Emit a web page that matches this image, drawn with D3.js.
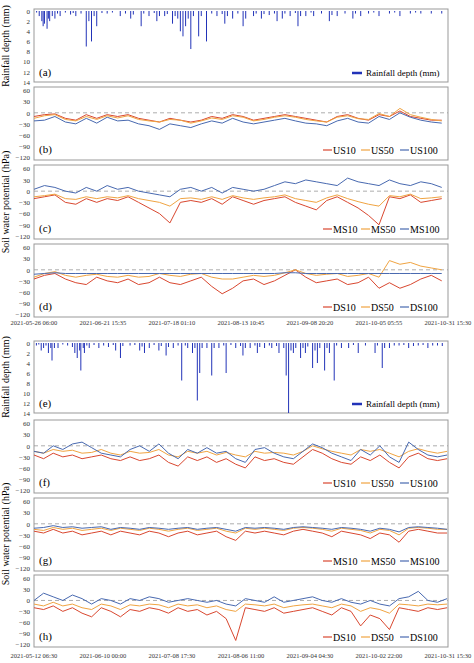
<!DOCTYPE html>
<html><head><meta charset="utf-8">
<script src="https://cdn.jsdelivr.net/npm/d3@7"></script>
<style>body{margin:0;background:#fff}text{font-family:"Liberation Serif",serif}</style>
</head><body><svg id="c" width="474" height="663"></svg>
<script>
// ---- data (days after start) ----
var startTop = new Date(2021, 4, 26, 6, 0), endTop = new Date(2021, 9, 31, 15, 30);
var startBot = new Date(2021, 4, 12, 6, 30), endBot = new Date(2021, 9, 31, 15, 30);
var ticksTop = ["2021-05-26 06:00","2021-06-21 15:35","2021-07-18 01:10","2021-08-13 10:45","2021-09-08 20:20","2021-10-05 05:55","2021-10-31 15:30"];
var ticksBot = ["2021-05-12 06:30","2021-06-10 00:00","2021-07-08 17:30","2021-08-06 11:00","2021-09-04 04:30","2021-10-02 22:00","2021-10-31 15:30"];
var rainTicks = [0,2,4,6,8,10,12,14];
var swpTicks = [60,30,0,-30,-60,-90,-120];

// rainfall [day, mm]
var rainTop = [[1,0.3],[2,1],[3,2],[3.5,3],[4,2.5],[5,3.5],[5.5,1.5],[6,2],[7,1],[8,1.5],[9,0.5],[10,1],[12,0.3],[14,0.7],[15,0.4],[16,1],[18,0.5],[20,7],[21,2],[22,6],[23,1],[24,3],[26,0.4],[28,0.5],[30,0.3],[33,1],[35,0.5],[37,1.5],[38,0.7],[41,3],[42,0.5],[44,1],[46,0.4],[47,2],[48,1],[50,1],[51,0.6],[53,2.5],[54,1],[55,1.5],[56,4],[57,5],[58,3],[59,1.5],[60,7.5],[61,1],[63,5],[64,1],[66,6],[68,0.5],[70,1],[72,0.6],[73,2.5],[74,1],[76,1.5],[78,0.5],[80,3],[81,1.5],[84,1],[85,0.5],[87,1.5],[88,0.6],[90,0.8],[92,0.5],[93,2],[95,1.5],[96,0.5],[98,1],[100,0.4],[101,3],[102,1],[104,1],[106,0.3],[107,1],[110,0.5],[113,2],[114,0.8],[116,1],[119,0.5],[122,1.5],[123,0.5],[125,1],[128,0.5],[130,0.3],[132,1],[136,0.5],[138,0.3],[140,1],[144,0.5],[146,0.3],[148,0.5],[152,0.5],[156,0.5]];
var rainBot = [[1,0.5],[2,0.3],[3,1.5],[4,1],[5,0.5],[6,2],[7,1],[7.5,3.5],[8.5,1],[10,1],[12,0.3],[14,0.5],[16,0.8],[17,2],[18,3],[19,1.5],[19.5,5.5],[20.5,1],[21,2],[22,0.5],[23,1],[25,0.4],[27,1],[29,0.5],[31,0.8],[33,0.4],[34,1.5],[36,3],[37,0.6],[40,0.5],[42,0.4],[44,1.5],[45,0.7],[46,2],[48,1],[50,0.4],[52,1.5],[53,0.6],[55,2.5],[56,0.8],[58,1],[60,0.5],[61.5,7.5],[63,0.5],[64,1],[66,2],[67,1],[68,11.5],[69,6],[70,1],[72,1],[74,6.5],[75,1],[77,1],[79,0.5],[80,6],[82,0.4],[84,1],[86,0.6],[87,2.5],[88,1],[90,1],[92,0.5],[93,2],[94,0.8],[96,1],[98,0.5],[99,1],[101,0.6],[102,2],[104,1],[105,6.5],[106,14],[107,1.5],[108,2],[109,1],[111,3],[112,1],[113,2],[114,0.7],[116,5],[117,1.5],[118,4],[119,1],[121,5.5],[122,1],[123,2],[125,7.5],[126,0.5],[128,1],[131,1],[133,0.4],[135,2],[138,0.5],[142,2],[143,0.5],[145,5],[146,1],[148,1],[150,0.5],[152,0.5],[154,0.4],[156,1],[158,0.6],[160,0.5],[162,0.4],[164,1],[166,0.5],[168,0.5],[170,0.6]];

// soil water potential, one value every 4 days
var US10t  = [-10,-5,-3,-15,-20,-5,-15,-5,-10,-5,-15,-20,-25,-15,-20,-25,-20,-10,-15,-5,-10,-20,-15,-10,-5,-10,-15,-20,-25,-10,-5,-15,-20,-5,-10,5,-10,-15,-20,-20];
var US50t  = [-15,-8,-5,-18,-22,-10,-18,-8,-14,-8,-18,-22,-25,-18,-20,-28,-22,-14,-18,-8,-12,-22,-18,-12,-8,-12,-18,-22,-25,-12,-8,-16,-18,-2,-10,12,-5,-12,-18,-22];
var US100t = [-22,-20,-10,-25,-30,-15,-28,-12,-22,-20,-30,-35,-45,-30,-35,-40,-30,-22,-28,-15,-25,-30,-25,-20,-15,-22,-28,-30,-35,-22,-15,-25,-28,-10,-18,0,-12,-20,-25,-28];
var MS10t  = [-20,-15,-10,-30,-35,-20,-30,-20,-25,-15,-30,-45,-60,-85,-30,-25,-30,-20,-35,-15,-25,-35,-25,-20,-15,-30,-40,-50,-25,-15,-30,-45,-65,-90,-15,-20,-10,-30,-25,-20];
var MS50t  = [-15,-12,-8,-20,-22,-15,-20,-15,-18,-12,-20,-25,-30,-40,-20,-18,-22,-15,-22,-12,-18,-22,-18,-15,-10,-20,-25,-30,-18,-10,-20,-28,-35,-40,-12,-15,-8,-20,-18,-15];
var MS100t = [5,15,10,0,-5,10,0,15,5,10,0,-5,-10,-15,5,10,0,10,-5,10,5,0,5,15,25,20,30,25,20,15,35,25,20,15,30,20,15,25,20,10];
var DS10t  = [-25,-15,-10,-25,-35,-40,-20,-30,-35,-25,-40,-35,-20,-35,-40,-30,-20,-45,-65,-50,-30,-25,-40,-30,-15,0,-20,-35,-30,-25,-40,-35,-20,-50,-35,-50,-40,-25,-15,-30];
var DS50t  = [-20,-10,-5,-15,-20,-15,-12,-18,-20,-15,-20,-18,-10,-15,-18,-12,-10,-20,-25,-25,-20,-15,-18,-15,-8,0,-10,-15,-12,-10,-18,-15,-10,-20,25,15,20,10,5,0];
var DS100t = [-12,-10,-8,-10,-10,-10,-10,-10,-10,-10,-10,-10,-10,-10,-10,-10,-10,-10,-10,-10,-10,-10,-10,-10,-8,-8,-10,-10,-10,-10,-10,-10,-10,-10,-10,-10,-10,-10,-10,-10];
var US10b  = [-25,-35,-20,-30,-25,-35,-30,-25,-35,-40,-30,-40,-35,-25,-45,-55,-30,-40,-30,-45,-35,-50,-60,-30,-40,-35,-45,-50,-30,-10,-20,-35,-45,-50,-30,-40,-25,-45,-60,-30,-20,-35,-40,-35];
var US50b  = [-15,-20,-10,-15,-12,-20,-18,-10,-20,-25,-15,-20,-18,-10,-25,-30,-15,-20,-15,-25,-18,-25,-30,-15,-20,-18,-20,-25,-15,0,-8,-15,-20,-25,-10,-15,-10,-20,-30,-15,-8,-15,-20,-15];
var US100b = [-15,-20,0,-10,5,10,-5,-20,-25,-30,-10,0,-15,5,-20,-35,-10,-20,-5,-20,-15,-35,-45,-10,-5,-20,-30,-35,-15,5,-5,-20,-30,-40,-10,-25,0,-30,-45,10,-10,-25,-30,-25];
var MS10b  = [-20,-25,-15,-25,-20,-30,-25,-20,-30,-20,-25,-30,-20,-25,-35,-25,-20,-30,-25,-20,-35,-45,-20,-25,-20,-25,-30,-20,-15,-20,-25,-35,-20,-25,-30,-40,-25,-30,-50,-20,-15,-20,-25,-25];
var MS50b  = [-15,-18,-10,-15,-12,-18,-15,-12,-18,-12,-15,-18,-12,-15,-20,-15,-12,-18,-15,-12,-20,-25,-12,-15,-12,-15,-18,-12,-10,-12,-15,-20,-12,-15,-18,-25,-15,-18,-30,-12,-10,-12,-15,-15];
var MS100b = [-12,-10,-5,-10,-8,-12,-10,-8,-15,-10,-12,-15,-10,-12,-15,-12,-10,-15,-12,-10,-15,-20,-10,-12,-10,-12,-15,-10,-8,-10,-12,-15,-10,-12,-15,-20,-12,-15,-22,-10,-8,-10,-12,-15];
var DS10b  = [-20,-25,-15,-30,-20,-35,-45,-20,-30,-45,-25,-30,-20,-25,-35,-20,-30,-25,-40,-30,-50,-110,-20,-25,-30,-20,-35,-30,-25,-20,-30,-40,-20,-30,-70,-40,-50,-80,-20,-25,-30,-20,-25,-20];
var DS50b  = [-10,-15,-5,-15,-10,-20,-25,-10,-15,-25,-12,-15,-10,-12,-20,-10,-15,-12,-20,-15,-25,-30,-10,-12,-15,-10,-20,-15,-12,-10,-15,-20,-10,-15,-30,-20,-25,-35,-10,-12,-15,-10,-12,-10];
var DS100b = [0,20,10,0,15,5,-10,5,0,-10,5,0,10,5,-5,0,5,0,-5,0,-10,-15,5,0,-5,10,-5,0,5,10,0,-5,5,-5,-10,0,-10,-15,5,10,25,0,-5,5];

// ---- drawing ----
var svg = d3.select("#c");
var red = "#d9472f", orange = "#f0a442", blue = "#4869b0", rainC = "#2233b8";
var x0 = 34, x1 = 448;
var ms = 86400000;

function xScale(s, e) { return d3.scaleTime().domain([s, e]).range([x0, x1]); }
function frame(y0, y1) {
  svg.append("rect").attr("x", x0).attr("y", y0).attr("width", x1 - x0).attr("height", y1 - y0)
    .attr("fill", "none").attr("stroke", "#999").attr("stroke-width", 1);
}
function yAxis(y, ticks, fmt) {
  var g = svg.append("g").attr("transform", "translate(" + x0 + ",0)")
    .call(d3.axisLeft(y).tickValues(ticks).tickSize(0).tickPadding(4).tickFormat(fmt || d3.format("d")));
  g.select(".domain").remove();
  g.selectAll("text").attr("font-size", 7).attr("fill", "#333");
}
function rainPanel(y0, y1, s, e, data, lab) {
  var x = xScale(s, e);
  var y = d3.scaleLinear().domain([0, 14]).range([y0 + 2, y1]);
  frame(y0, y1);
  yAxis(y, rainTicks);
  svg.append("g").selectAll("line").data(data).join("line")
    .attr("x1", d => x(new Date(+s + d[0] * ms))).attr("x2", d => x(new Date(+s + d[0] * ms)))
    .attr("y1", y(0)).attr("y2", d => y(d[1])).attr("stroke", rainC).attr("stroke-width", 1);
  svg.append("text").attr("x", x0 + 5).attr("y", y1 - 6).attr("font-size", 11).text(lab);
  svg.append("line").attr("x1", 352).attr("x2", 362).attr("y1", y1 - 9).attr("y2", y1 - 9)
    .attr("stroke", rainC).attr("stroke-width", 2.5);
  svg.append("text").attr("x", 366).attr("y", y1 - 6).attr("font-size", 9).text("Rainfall depth (mm)");
}
function swpPanel(y0, y1, s, e, series, names, lab) {
  var x = xScale(s, e);
  var y = d3.scaleLinear().domain([70, -128]).range([y0, y1]);
  frame(y0, y1);
  yAxis(y, swpTicks);
  svg.append("line").attr("x1", x0).attr("x2", x1).attr("y1", y(0)).attr("y2", y(0))
    .attr("stroke", "#999").attr("stroke-dasharray", "4,3").attr("stroke-width", 0.8);
  var cols = [red, orange, blue];
  var last = (e - s) / ms;
  series.forEach(function (arr, i) {
    var pts = arr.map((v, k) => [new Date(+s + Math.min(k * 4, last) * ms), v]);
    svg.append("path").datum(pts)
      .attr("d", d3.line().x(d => x(d[0])).y(d => y(d[1])))
      .attr("fill", "none").attr("stroke", cols[i]).attr("stroke-width", 1);
  });
  svg.append("text").attr("x", x0 + 5).attr("y", y1 - 7).attr("font-size", 11).text(lab);
  var lx = [323, 361, 400];
  names.forEach(function (n, i) {
    svg.append("line").attr("x1", lx[i]).attr("x2", lx[i] + 9).attr("y1", y1 - 10).attr("y2", y1 - 10)
      .attr("stroke", cols[i]).attr("stroke-width", 1.2);
    svg.append("text").attr("x", lx[i] + 10).attr("y", y1 - 6).attr("font-size", 10).text(n);
  });
}
function xLabels(yy, s, e, labs) {
  var n = labs.length - 1;
  labs.forEach(function (l, i) {
    svg.append("text").attr("x", x0 + (x1 - x0) * i / n).attr("y", yy).attr("text-anchor", "middle")
      .attr("font-size", 6.5).attr("fill", "#333").text(l);
  });
}
function yTitle(cy, t) {
  svg.append("text").attr("transform", "translate(9," + cy + ") rotate(-90)").attr("text-anchor", "middle")
    .attr("font-size", 10).text(t);
}

rainPanel(9, 82, startTop, endTop, rainTop, "(a)");
swpPanel(87, 160, startTop, endTop, [US10t, US50t, US100t], ["US10", "US50", "US100"], "(b)");
swpPanel(165, 239, startTop, endTop, [MS10t, MS50t, MS100t], ["MS10", "MS50", "MS100"], "(c)");
swpPanel(244, 317, startTop, endTop, [DS10t, DS50t, DS100t], ["DS10", "DS50", "DS100"], "(d)");
xLabels(325, startTop, endTop, ticksTop);
yTitle(46, "Rainfall depth (mm)");
yTitle(202, "Soil water potential (hPa)");

rainPanel(341, 413, startBot, endBot, rainBot, "(e)");
swpPanel(420, 493, startBot, endBot, [US10b, US50b, US100b], ["US10", "US50", "US100"], "(f)");
swpPanel(498, 571, startBot, endBot, [MS10b, MS50b, MS100b], ["MS10", "MS50", "MS100"], "(g)");
swpPanel(575, 647, startBot, endBot, [DS10b, DS50b, DS100b], ["DS10", "DS50", "DS100"], "(h)");
xLabels(658, startBot, endBot, ticksBot);
yTitle(377, "Rainfall depth (mm)");
yTitle(534, "Soil water potential (hPa)");
</script></body></html>
